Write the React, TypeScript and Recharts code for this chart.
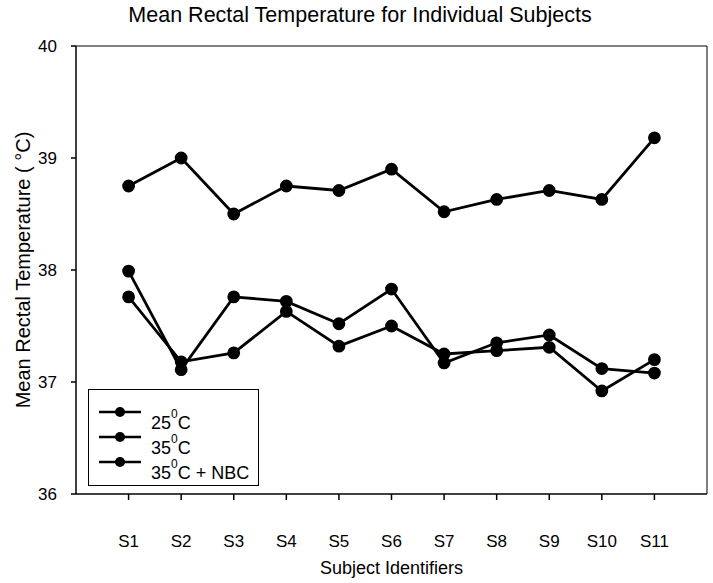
import React from 'react'
import {
  LineChart, Line, XAxis, YAxis, ReferenceLine,
} from 'recharts'

const subjects = ['S1', 'S2', 'S3', 'S4', 'S5', 'S6', 'S7', 'S8', 'S9', 'S10', 'S11']
const temp25 = [38.75, 39.0, 38.5, 38.75, 38.71, 38.9, 38.52, 38.63, 38.71, 38.63, 39.18]
const temp35 = [37.99, 37.11, 37.76, 37.72, 37.52, 37.83, 37.17, 37.35, 37.42, 37.12, 37.08]
const temp35nbc = [37.76, 37.18, 37.26, 37.63, 37.32, 37.5, 37.25, 37.28, 37.31, 36.92, 37.2]
const yTicks = [36, 37, 38, 39, 40]
const seriesNames = ['25', '35', '35']
const seriesSuffix = ['', '', ' + NBC']

const FONT = '"Liberation Sans", Arial, sans-serif'

const data = subjects.map((s, i) => ({
  idx: i + 1,
  subject: s,
  t25: temp25[i],
  t35: temp35[i],
  t35nbc: temp35nbc[i],
}))

// legend drawn outside the chart so it doesn't eat into the plot height
const LegendBox = () => (
  <div style={{
    position: 'absolute', left: 88, top: 389,
    border: '1px solid #000', width: 171, height: 97, boxSizing: 'border-box',
    padding: '9px 0 0 10px', background: '#fff', fontFamily: FONT,
  }}>
    {seriesNames.map((n, i) => (
      <div key={i} style={{ display: 'flex', alignItems: 'center', height: 25, whiteSpace: 'nowrap' }}>
        <svg width={44} height={12} style={{ marginRight: 8, flexShrink: 0 }}>
          <line x1={0} y1={6} x2={42} y2={6} stroke="#000" strokeWidth={2.5} />
          <circle cx={21} cy={6} r={5} fill="#000" />
        </svg>
        <span style={{ fontSize: 18, color: '#000', marginTop: 13, lineHeight: '18px' }}>
          {n}<sup style={{ fontSize: 12, verticalAlign: 11 }}>0</sup>C{seriesSuffix[i]}
        </span>
      </div>
    ))}
  </div>
)

export default function App() {
  return (
    <div style={{ position: 'absolute', left: 0, top: 0, width: 713, height: 583, background: '#fff' }}>
      <div style={{
        position: 'absolute', left: 0, width: 720, top: 3, textAlign: 'center',
        fontFamily: FONT, fontSize: 21.5, color: '#000',
      }}>
        Mean Rectal Temperature for Individual Subjects
      </div>
      <LineChart
        width={713}
        height={583}
        data={data}
        margin={{ top: 46, right: 6, left: 0, bottom: 0 }}
      >
        <XAxis
          dataKey="idx"
          type="number"
          domain={[0, 12]}
          ticks={subjects.map((_, i) => i + 1)}
          tickFormatter={(v: number) => subjects[v - 1]}
          height={89}
          tickSize={6}
          tickMargin={35}
          stroke="#000"
          strokeWidth={1.5}
          tick={{ fill: '#000', fontSize: 17, fontFamily: FONT }}
          label={{ value: 'Subject Identifiers', position: 'insideBottom', offset: 9, fill: '#000', fontSize: 18, fontFamily: FONT }}
        />
        <YAxis
          type="number"
          domain={[36, 40]}
          ticks={yTicks}
          width={76}
          tickSize={5}
          tickMargin={14}
          stroke="#000"
          strokeWidth={1.5}
          tick={{ fill: '#000', fontSize: 17, fontFamily: FONT }}
          label={{ value: 'Mean Rectal Temperature ( °C)', angle: -90, position: 'center', dx: -15, fill: '#000', fontSize: 20, fontFamily: FONT }}
        />
        <ReferenceLine y={40} stroke="#000" strokeWidth={1} />
        <ReferenceLine x={12} stroke="#000" strokeWidth={1} />
        <Line dataKey="t25" name="25°C" stroke="#000" strokeWidth={2.8} dot={{ r: 5, fill: '#000', stroke: '#000' }} isAnimationActive={false} />
        <Line dataKey="t35" name="35°C" stroke="#000" strokeWidth={2.8} dot={{ r: 5, fill: '#000', stroke: '#000' }} isAnimationActive={false} />
        <Line dataKey="t35nbc" name="35°C + NBC" stroke="#000" strokeWidth={2.8} dot={{ r: 5, fill: '#000', stroke: '#000' }} isAnimationActive={false} />
      </LineChart>
      <LegendBox />
    </div>
  )
}
